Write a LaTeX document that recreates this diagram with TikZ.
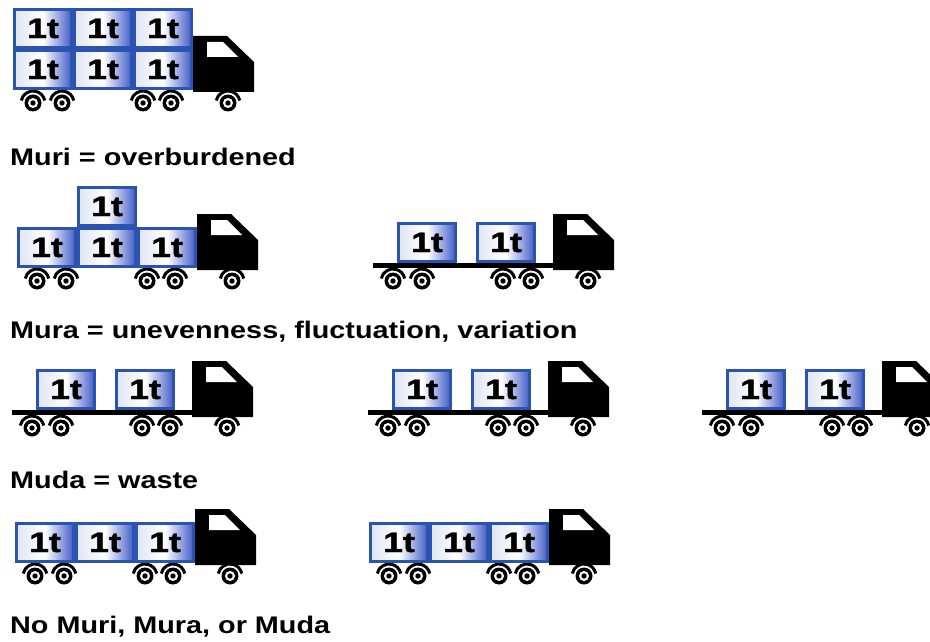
\documentclass[tikz,border=0pt]{standalone}
\usepackage{fontspec}
\newfontfamily\capfont{Liberation Sans Bold}[FakeStretch=1.2]
\newfontfamily\tonfont{Liberation Sans Bold}[FakeStretch=1.28, FakeBold=1.6]
\usetikzlibrary{positioning}

\definecolor{boxblue}{RGB}{42,84,176}
\definecolor{shadeblue}{RGB}{66,92,200}

% chassis, cab and wheels; #1 = left end of the bed, #2 = bed bottom
\newcommand{\truck}[2]{%
  \begin{scope}[shift={(#1,#2)}]
    \fill (0,-5) rectangle (180,0);
    \fill (180,2) -- (180,-54) -- (214,-54) -- (241,-28) -- (241,2) -- cycle;
    \fill[white] (194,-48) -- (210,-48) -- (225,-33) -- (194,-33) -- cycle;
    \foreach \w in {20,49,130,158,215} {
      \fill (\w,13) circle (8.5);
      \fill[white] (\w,13) circle (5);
      \fill (\w,13) circle (2.7);
      \draw[fender] ([shift={(192:12)}]\w,13) arc (192:348:12);
    }
  \end{scope}}

\begin{document}
\begin{tikzpicture}[x=1pt,y=-1pt]
\tikzset{ton/.style = {draw=boxblue, line width=3pt, left color=white!85!boxblue,
    right color=shadeblue, middle color=white, minimum width=57pt,
    minimum height=38pt, inner sep=0pt, text=black,
    font=\tonfont\fontsize{28}{28}\selectfont}}
\tikzset{fender/.style = {line width=3pt}}
\tikzset{caption/.style = {anchor=base west, inner sep=0pt,
    font=\capfont\fontsize{24}{24}\selectfont}}

\useasboundingbox (0,0) rectangle (930,642);
\clip (0,0) rectangle (930,642);

% full load, stacked two high
\truck{13}{90}
\node[ton] (a1) at (43,69.5) {1t};
\node[ton] (a2) at (103,69.5) {1t};
\node[ton] (a3) at (163,69.5) {1t};
\node[ton] (a4) at (43,28.5) {1t};
\node[ton] (a5) at (103,28.5) {1t};
\node[ton] (a6) at (163,28.5) {1t};
\node[caption] (muri) at (10,165) {Muri = overburdened};

% overloaded and underloaded
\truck{17}{268}
\node[ton] (b1) at (47,247.5) {1t};
\node[ton] (b2) at (107,247.5) {1t};
\node[ton] (b3) at (167,247.5) {1t};
\node[ton] (b4) at (107,206.5) {1t};
\truck{373}{268}
\node[ton] (c1) at (427,242.5) {1t};
\node[ton] (c2) at (506,242.5) {1t};
\node[caption] (mura) at (10,338) {Mura = unevenness, fluctuation, variation};

% three trucks, two tons each
\foreach \x [count=\i] in {12,368,702} {
  \truck{\x}{415}
  \node[ton] (d\i1) at (\x+54,389.5) {1t};
  \node[ton] (d\i2) at (\x+133,389.5) {1t};
}
\node[caption] (muda) at (10,488) {Muda = waste};

% two trucks, three tons each
\foreach \x [count=\i] in {15,369} {
  \truck{\x}{563}
  \node[ton] (e\i1) at (\x+30,542.5) {1t};
  \node[ton] (e\i2) at (\x+90,542.5) {1t};
  \node[ton] (e\i3) at (\x+150,542.5) {1t};
}
\node[caption] (none) at (10,633) {No Muri, Mura, or Muda};
\end{tikzpicture}
\end{document}
